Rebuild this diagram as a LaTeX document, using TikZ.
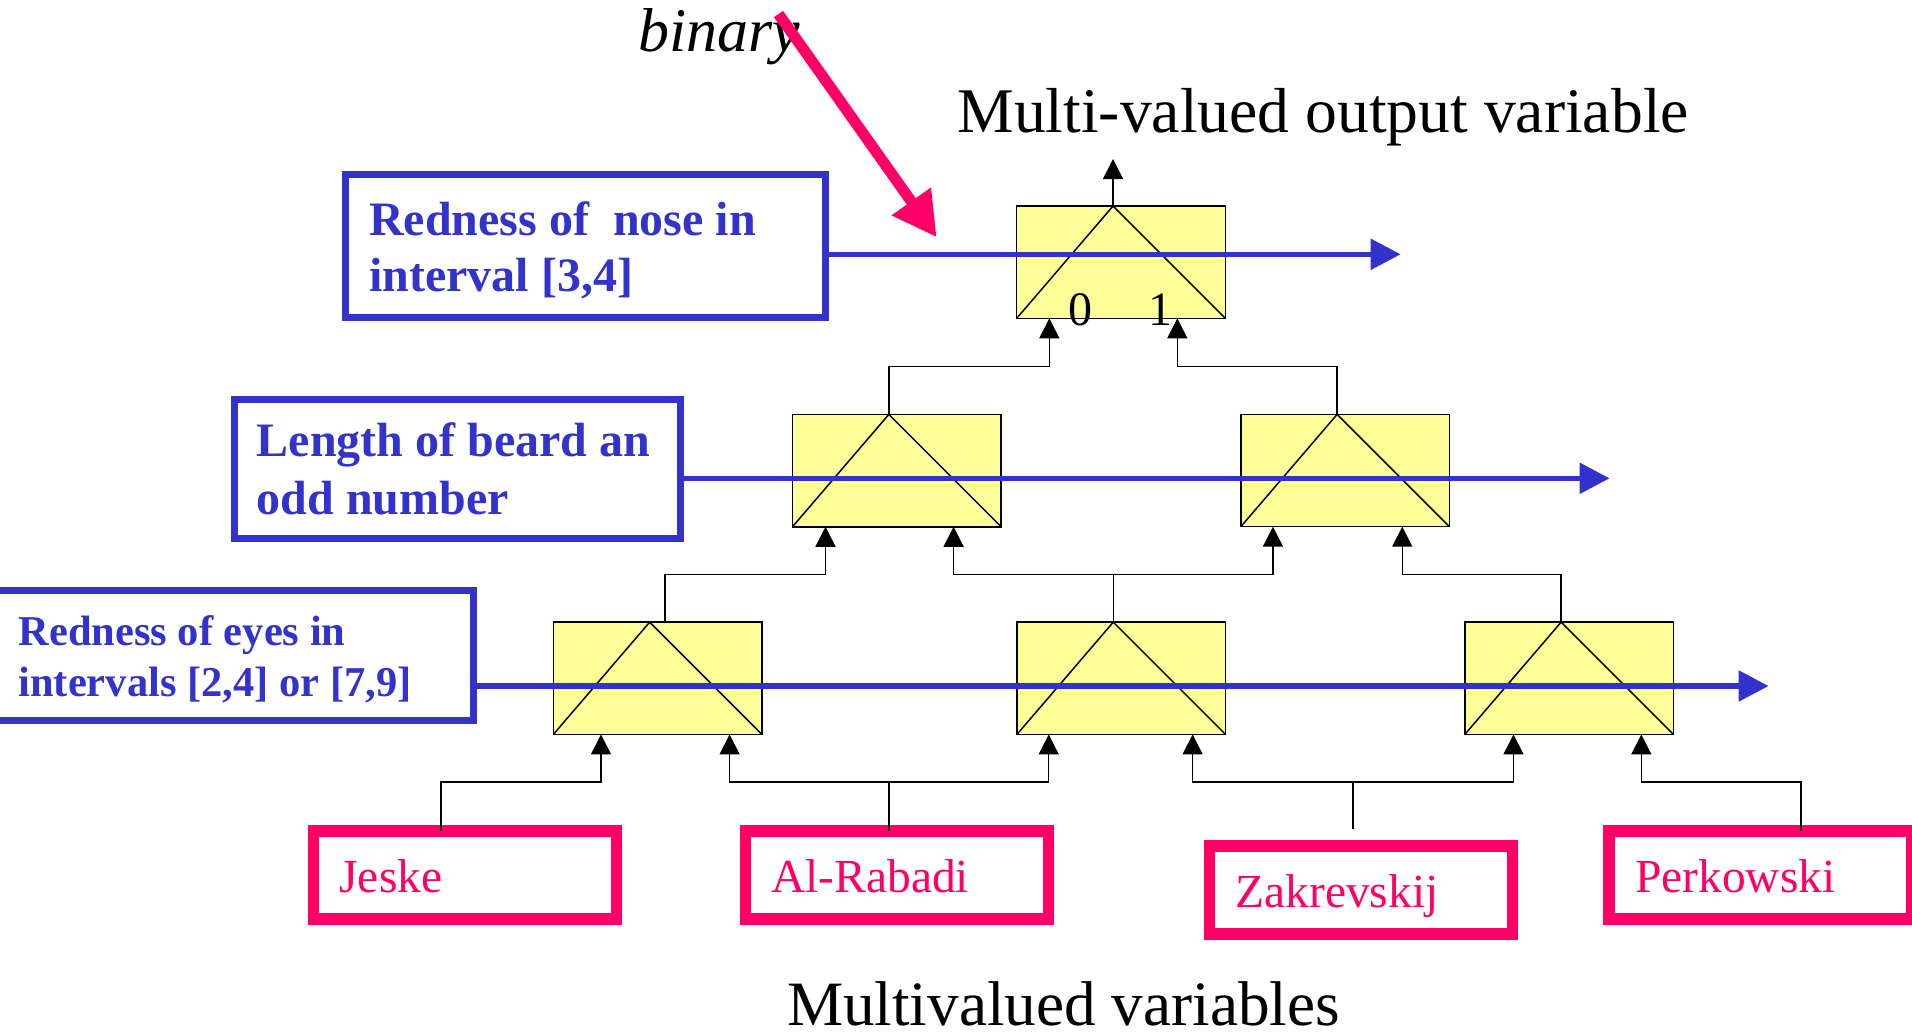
\documentclass[tikz,border=0pt]{standalone}
\usepackage{fontspec}
\setmainfont{Liberation Serif}
\usetikzlibrary{arrows.meta}
\definecolor{vblue}{HTML}{3333CC}
\definecolor{vpink}{HTML}{FF0066}
\definecolor{vyellow}{HTML}{FFFF99}
\begin{document}
\begin{tikzpicture}[x=1pt,y=-1pt,
  gate/.style={draw=black, line width=1.5pt, fill=vyellow, rectangle,
    minimum width=208.6pt, minimum height=112.3pt, inner sep=0pt, outer sep=0pt},
  tri/.style={draw=black, line width=1.5pt, line join=miter},
  wire/.style={draw=black, line width=1.5pt},
  inarrow/.style={wire, -{Triangle[length=20pt,width=20pt]}},
  namebox/.style={draw=vpink, line width=11.5pt, rectangle, minimum height=88pt,
    text width=251pt, align=left, inner xsep=26pt, inner ysep=0pt,
    text height=39pt, text depth=4pt, outer sep=0pt, text=vpink,
    font=\fontsize{47.5}{55}\selectfont},
  bluebox/.style={draw=vblue, line width=7pt, rectangle, inner sep=0pt, outer sep=0pt},
  bluetext/.style={anchor=base west, inner sep=0pt, text=vblue},
  blueline/.style={draw=vblue, line width=5.5pt, -{Triangle[length=30pt,width=30pt]}},
  plain/.style={inner sep=0pt, text=black}
]
\useasboundingbox (0,0) rectangle (1912,1034);

% ---------- gates ----------
\node[gate] (g0) at (1121,262.2) {};
\node[gate] (g1) at (896.8,470.6) {};
\node[gate] (g2) at (1345.15,470.5) {};
\node[gate] (g3) at (657.65,678.3) {};
\node[gate] (g4) at (1121.25,678.3) {};
\node[gate] (g5) at (1569.1,678.3) {};
\foreach \g in {g0,g1,g2,g3,g4,g5}{
  \draw[tri] (\g.south west) -- ([xshift=-8pt]\g.north) -- (\g.south east);
}

% ---------- bus levels ----------
\coordinate (busA) at (0,782);
\coordinate (busB) at (0,574.3);
\coordinate (busC) at (0,366.3);

% gate inputs
\coordinate (g0in1) at ([xshift=-71.7pt]g0.south);
\coordinate (g0in2) at ([xshift=56.3pt]g0.south);
\coordinate (g1in1) at ([xshift=-71.3pt]g1.south);
\coordinate (g1in2) at ([xshift=56.8pt]g1.south);
\coordinate (g2in1) at ([xshift=-72.2pt]g2.south);
\coordinate (g2in2) at ([xshift=57.1pt]g2.south);
\coordinate (g3in1) at ([xshift=-56.65pt]g3.south);
\coordinate (g3in2) at ([xshift=71.95pt]g3.south);
\coordinate (g4in1) at ([xshift=-72.55pt]g4.south);
\coordinate (g4in2) at ([xshift=71.35pt]g4.south);
\coordinate (g5in1) at ([xshift=-55.6pt]g5.south);
\coordinate (g5in2) at ([xshift=72.2pt]g5.south);
% gate outputs
\coordinate (g0out) at ([xshift=-8pt]g0.north);
\coordinate (g1out) at ([xshift=-8pt]g1.north);
\coordinate (g2out) at ([xshift=-8pt]g2.north);
\coordinate (g3out) at ([xshift=7.4pt]g3.north);
\coordinate (g4out) at ([xshift=-8pt]g4.north);
\coordinate (g5out) at ([xshift=-8pt]g5.north);
\coordinate (topOut) at (1113,159);

% ---------- name boxes ----------
\node[namebox] (jeske) at (465,875) {Jeske};
\node[namebox] (rabadi) at (896.8,875) {Al-Rabadi};
\node[namebox] (zak) at (1360.85,890.15) {Zakrevskij};
\node[namebox] (perk) at (1760.65,875) {Perkowski};

\coordinate (jOut) at ([xshift=-24pt]jeske.north);
\coordinate (rOut) at ([xshift=-7.8pt]rabadi.north);
\coordinate (zOut) at ([xshift=-7.9pt,yshift=16.75pt]zak.north);
\coordinate (pOut) at ([xshift=40.35pt]perk.north);

% ---------- connectors ----------
\draw[inarrow] (jOut) |- (g3in1 |- busA) -- (g3in1);
\draw[inarrow] (rOut) |- (g3in2 |- busA) -- (g3in2);
\draw[inarrow] (rOut) |- (g4in1 |- busA) -- (g4in1);
\draw[inarrow] (zOut) |- (g4in2 |- busA) -- (g4in2);
\draw[inarrow] (zOut) |- (g5in1 |- busA) -- (g5in1);
\draw[inarrow] (pOut) |- (g5in2 |- busA) -- (g5in2);

\draw[inarrow] (g3out) |- (g1in1 |- busB) -- (g1in1);
\draw[inarrow] (g4out) |- (g1in2 |- busB) -- (g1in2);
\draw[inarrow] (g4out) |- (g2in1 |- busB) -- (g2in1);
\draw[inarrow] (g5out) |- (g2in2 |- busB) -- (g2in2);

\draw[inarrow] (g1out) |- (g0in1 |- busC) -- (g0in1);
\draw[inarrow] (g2out) |- (g0in2 |- busC) -- (g0in2);

\draw[inarrow] (g0out) -- (topOut);

% ---------- blue boxes ----------
\node[bluebox, minimum width=479.9pt, minimum height=142.3pt] (noseBox) at (585.25,245.85) {};
\node[bluebox, minimum width=446.4pt, minimum height=139.6pt] (beardBox) at (457.3,469) {};
\node[bluebox, minimum width=483.5pt, minimum height=130.2pt] (eyesBox) at (231.75,655.3) {};

\node[bluetext, font=\bfseries\fontsize{48}{56.7}\selectfont] (noseTxt) at (369,235)
  {\begin{tabular}[t]{@{}l@{}}Redness of~\ nose in\\interval [3,4]\end{tabular}};
\node[bluetext, font=\bfseries\fontsize{48}{58}\selectfont] (beardTxt) at (256.6,456.7)
  {\begin{tabular}[t]{@{}l@{}}Length of beard an\\odd number\end{tabular}};
\node[bluetext, font=\bfseries\fontsize{42.5}{51.7}\selectfont] (eyesTxt) at (18.3,645)
  {\begin{tabular}[t]{@{}l@{}}Redness of eyes in\\intervals [2,4] or [7,9]\end{tabular}};

\coordinate (noseEnd) at (1400.7,254.3);
\coordinate (beardEnd) at (1609.6,478.3);
\coordinate (eyesEnd) at (1768.6,686);
\draw[blueline] (noseBox.east |- noseEnd) -- (noseEnd);
\draw[blueline] (beardBox.east |- beardEnd) -- (beardEnd);
\draw[blueline] (eyesBox.east |- eyesEnd) -- (eyesEnd);

% ---------- labels ----------
\node[plain, anchor=base, font=\fontsize{48}{50}\selectfont] (lab0) at (1080,325) {0};
\node[plain, anchor=base, font=\fontsize{48}{50}\selectfont] (lab1) at (1160,325) {1};

\node[plain, anchor=base west, font=\fontsize{63.6}{70}\selectfont] (outTitle) at (957.4,132.7) {Multi-valued output variable};
\node[plain, anchor=base west, font=\fontsize{63.2}{70}\selectfont] (inTitle) at (786.8,1025) {Multivalued variables};
\node[plain, anchor=base west, font=\itshape\fontsize{62}{70}\selectfont] (binary) at (638.4,51.7) {binary};

% ---------- pink pointer ----------
\coordinate (binStart) at (778.5,14);
\coordinate (binTip) at (936.7,237.3);
\draw[draw=vpink, line width=11pt, -{Triangle[length=44pt,width=45pt]}] (binStart) -- (binTip);
\end{tikzpicture}
\end{document}
